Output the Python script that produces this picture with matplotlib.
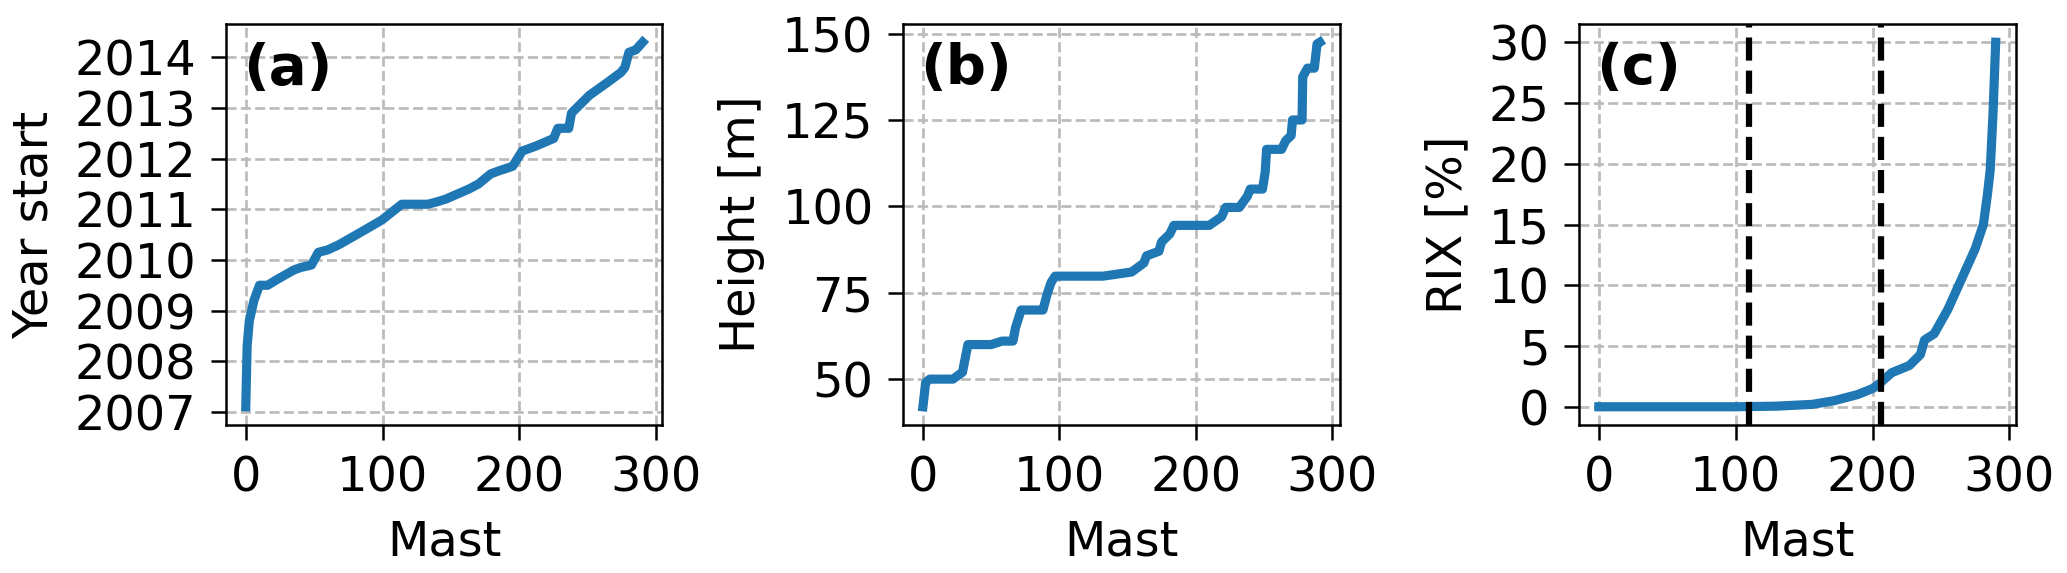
import matplotlib.pyplot as plt

# values (mast index -> value)
year_x = [0, 1, 2.6, 6, 10, 16, 22, 35, 40, 48, 53, 60, 68, 81, 97, 100, 114, 133, 140, 146,
          163, 170, 179, 184, 195, 202, 212, 225, 228, 236, 238, 251, 264, 274, 277, 280, 285,
          290]
year_y = [2007.1, 2008.3, 2008.8, 2009.2, 2009.5, 2009.5, 2009.6, 2009.8, 2009.85, 2009.9,
          2010.15, 2010.2, 2010.3, 2010.5, 2010.75, 2010.8, 2011.1, 2011.1, 2011.15, 2011.2,
          2011.4, 2011.5, 2011.7, 2011.75, 2011.85, 2012.15, 2012.25, 2012.4, 2012.6, 2012.6,
          2012.9, 2013.25, 2013.5, 2013.7, 2013.8, 2014.1, 2014.15, 2014.3]

height_x = [0, 2, 5, 22, 29, 31, 33, 50, 58, 66, 68, 72, 88, 91, 94, 97, 132, 153, 162,
            164, 173, 175, 181, 184, 210, 219, 222, 232, 238, 240, 249, 251, 252, 263, 266,
            270, 271, 278, 278.5, 282, 287, 289, 291]
height_y = [42, 49, 50, 50, 52, 56, 60, 60, 61, 61, 65, 70, 70, 74.5, 78, 79.8, 79.8, 81,
            83.6, 85.7, 87, 89.7, 92, 94.5, 94.5, 97, 99.7, 99.7, 103, 105, 105, 110, 116.5,
            116.5, 119, 120.5, 125, 125, 137.5, 140, 140, 147, 147.5]

rix_x = [0, 100, 130, 156, 172, 189, 200, 205, 214, 227, 235, 238, 245, 255, 265, 275,
         281, 284, 286, 288, 290]
rix_y = [0, 0, 0.05, 0.2, 0.5, 1.0, 1.5, 1.9, 2.8, 3.4, 4.3, 5.5, 6.0, 8.0, 10.5, 13.0,
         15.0, 17.5, 19.5, 24.0, 30.0]
rix_cuts = [110, 206]

panels = ['(a)', '(b)', '(c)']
ylabels = ['Year start', 'Height [m]', 'RIX [%]']

fs = 11.5
blue = '#1f77b4'

fig = plt.figure(figsize=(2067 / 300, 573 / 300), dpi=300)
lefts = [0.1093, 0.4369, 0.7639]
axes = [fig.add_axes([l, 0.2583, 0.2112, 0.6998]) for l in lefts]

axes[0].plot(year_x, year_y, color=blue, lw=2.2)
axes[0].set_yticks(range(2007, 2015))

axes[1].plot(height_x, height_y, color=blue, lw=2.2)
axes[1].set_yticks([50, 75, 100, 125, 150])

axes[2].plot(rix_x, rix_y, color=blue, lw=2.2)
for c in rix_cuts:
    axes[2].axvline(c, color='k', linestyle='--', lw=1.5)
axes[2].set_yticks([0, 5, 10, 15, 20, 25, 30])

for ax, p, yl in zip(axes, panels, ylabels):
    #样式
    ax.set_xticks([0, 100, 200, 300])
    ax.grid(True, color='#bbbbbb', linestyle='--', lw=0.65)
    ax.set_axisbelow(True)
    ax.tick_params(labelsize=fs, length=3.6, width=0.6)
    ax.set_xlabel('Mast', fontsize=fs)
    ax.set_ylabel(yl, fontsize=fs)
    ax.text(0.04, 0.955, p, transform=ax.transAxes, fontsize=13.5,
            fontweight='bold', va='top', ha='left')
    for s in ax.spines.values():
        s.set_linewidth(0.6)

fig.savefig('out.png', dpi=300)
